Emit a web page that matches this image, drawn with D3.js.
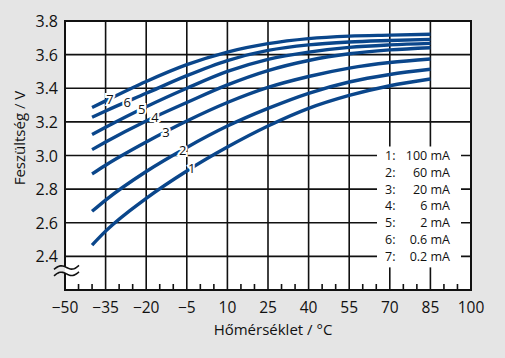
<!DOCTYPE html>
<html><head><meta charset="utf-8">
<script src="https://cdn.jsdelivr.net/npm/d3@7/dist/d3.min.js"></script>
<style>
html,body{margin:0;padding:0;background:#e5e5e5;}
svg{display:block;font-family:"Open Sans",sans-serif;}
</style></head>
<body><svg id="c" width="505" height="358"></svg>
<script>
const temps = [-40, -35, -20, -5, 10, 25, 40, 55, 70, 85];
const curve1 = [2.467, 2.55, 2.745, 2.908, 3.05, 3.175, 3.28, 3.357, 3.415, 3.455];
const curve2 = [2.668, 2.735, 2.905, 3.048, 3.175, 3.28, 3.37, 3.437, 3.482, 3.513];
const curve3 = [2.89, 2.942, 3.08, 3.205, 3.315, 3.405, 3.47, 3.52, 3.553, 3.574];
const curve4 = [3.035, 3.08, 3.205, 3.315, 3.42, 3.505, 3.565, 3.605, 3.628, 3.641];
const curve5 = [3.125, 3.168, 3.29, 3.40, 3.50, 3.572, 3.615, 3.643, 3.658, 3.667];
const curve6 = [3.227, 3.265, 3.37, 3.475, 3.565, 3.625, 3.658, 3.675, 3.684, 3.691];
const curve7 = [3.285, 3.325, 3.44, 3.54, 3.615, 3.665, 3.695, 3.71, 3.716, 3.721];
const curveIds = ["1", "2", "3", "4", "5", "6", "7"];
const currents = ["100 mA", "60 mA", "20 mA", "6 mA", "2 mA", "0.6 mA", "0.2 mA"];
const labelTemps = [-3.2, -6.5, -12.7, -16.8, -21.7, -27, -33.4];
const xTicks = [-50, -35, -20, -5, 10, 25, 40, 55, 70, 85, 100];
const yTicks = [2.4, 2.6, 2.8, 3.0, 3.2, 3.4, 3.6, 3.8];
const xTitle = "Hőmérséklet / °C";
const yTitle = "Feszültség / V";

const allCurves = [curve1, curve2, curve3, curve4, curve5, curve6, curve7];
const svg = d3.select("#c");
const W = 505, H = 358;
const x = d3.scaleLinear().domain([-50, 100]).range([65, 471]);
const y = d3.scaleLinear().domain([2.2, 3.8]).range([290, 21]);
const blue = "#0a468b";

svg.append("rect").attr("width", W).attr("height", H).attr("fill", "#e5e5e5");
svg.append("rect").attr("x", x(-50)).attr("y", y(3.8)).attr("width", x(100) - x(-50)).attr("height", y(2.2) - y(3.8)).attr("fill", "#fff");

// grid
const g = svg.append("g").attr("stroke", "#111").attr("stroke-width", 1.6);
yTicks.filter(v => v < 3.8).forEach(v => {
  g.append("line").attr("x1", x(-50)).attr("x2", x(100)).attr("y1", y(v)).attr("y2", y(v));
});
xTicks.filter(v => v > -50 && v < 100).forEach(v => {
  g.append("line").attr("x1", x(v)).attr("x2", x(v)).attr("y1", y(3.8)).attr("y2", y(2.2));
});
// minor ticks
d3.range(-45, 100, 5).filter(v => !xTicks.includes(v)).forEach(v => {
  g.append("line").attr("x1", x(v)).attr("x2", x(v)).attr("y1", y(2.2)).attr("y2", y(2.2) - 6);
});

// legend box
const legTop = y(3.0) - 9, legBot = y(2.4) + 11;
svg.append("rect").attr("x", 377).attr("y", legTop).attr("width", 84).attr("height", legBot - legTop).attr("fill", "#fff");

// frame
svg.append("rect").attr("x", x(-50)).attr("y", y(3.8)).attr("width", x(100) - x(-50)).attr("height", y(2.2) - y(3.8))
  .attr("fill", "none").attr("stroke", "#111").attr("stroke-width", 2);

// break symbol
const bx0 = x(-50) - 11, bx1 = x(-50) + 14, by = y(2.315);
function wave(off) {
  return d3.range(0, 1.0001, 0.05).map(t => [bx0 + t * (bx1 - bx0), by + off - 2.6 * Math.sin(t * 2 * Math.PI) - (t - 0.5) * 4]);
}
const up = wave(-3.2), lo = wave(3.2);
const band = up.concat(lo.slice().reverse());
svg.append("clipPath").attr("id", "cl").append("rect").attr("x", 0).attr("y", 0).attr("width", x(-50)).attr("height", H);
svg.append("clipPath").attr("id", "cr").append("rect").attr("x", x(-50)).attr("y", 0).attr("width", W).attr("height", H);
svg.append("path").attr("d", d3.line()(band) + "Z").attr("fill", "#e5e5e5").attr("clip-path", "url(#cl)");
svg.append("path").attr("d", d3.line()(band) + "Z").attr("fill", "#fff").attr("clip-path", "url(#cr)");
[up, lo].forEach(p => svg.append("path").attr("d", d3.line()(p)).attr("fill", "none").attr("stroke", "#111").attr("stroke-width", 1.6));

// curves
const line = d3.line().x(d => x(d[0])).y(d => y(d[1])).curve(d3.curveMonotoneX);
allCurves.forEach(c => {
  svg.append("path").attr("d", line(temps.map((t, i) => [t, c[i]])))
    .attr("fill", "none").attr("stroke", blue).attr("stroke-width", 3.4);
});

// curve labels
function interp(c, t) {
  for (let i = 0; i < temps.length - 1; i++) {
    if (t >= temps[i] && t <= temps[i + 1]) {
      const f = (t - temps[i]) / (temps[i + 1] - temps[i]);
      return c[i] + f * (c[i + 1] - c[i]);
    }
  }
  return c[c.length - 1];
}
allCurves.forEach((c, i) => {
  const t = labelTemps[i];
  svg.append("text").attr("x", x(t)).attr("y", y(interp(c, t)))
    .attr("text-anchor", "middle").attr("dominant-baseline", "central")
    .attr("font-size", 13).attr("fill", "#111")
    .attr("stroke", "#fff").attr("stroke-width", 4).attr("paint-order", "stroke")
    .text(curveIds[i]);
});

// legend text
currents.forEach((s, i) => {
  const yy = y(3.0 - i * 0.1);
  svg.append("text").attr("x", 385).attr("y", yy).attr("dominant-baseline", "central")
    .attr("font-size", 12.5).attr("fill", "#111").text(curveIds[i] + ":");
  svg.append("text").attr("x", 450).attr("y", yy).attr("dominant-baseline", "central").attr("text-anchor", "end")
    .attr("font-size", 12.5).attr("fill", "#111").text(s);
});

// tick labels
xTicks.forEach(v => {
  svg.append("text").attr("x", x(v)).attr("y", 313).attr("text-anchor", "middle")
    .attr("font-size", 15.5).attr("fill", "#111").text(v < 0 ? "\u2212" + Math.abs(v) : String(v));
});
yTicks.forEach(v => {
  svg.append("text").attr("x", 58).attr("y", y(v)).attr("text-anchor", "end").attr("dominant-baseline", "central")
    .attr("font-size", 16).attr("fill", "#111").text(v.toFixed(1));
});

// titles
svg.append("text").attr("x", 273).attr("y", 334.5).attr("text-anchor", "middle")
  .attr("font-size", 15).attr("fill", "#111").text(xTitle);
svg.append("text").attr("transform", "translate(25,138) rotate(-90)").attr("text-anchor", "middle")
  .attr("font-size", 15).attr("fill", "#111").text(yTitle);
</script></body></html>
